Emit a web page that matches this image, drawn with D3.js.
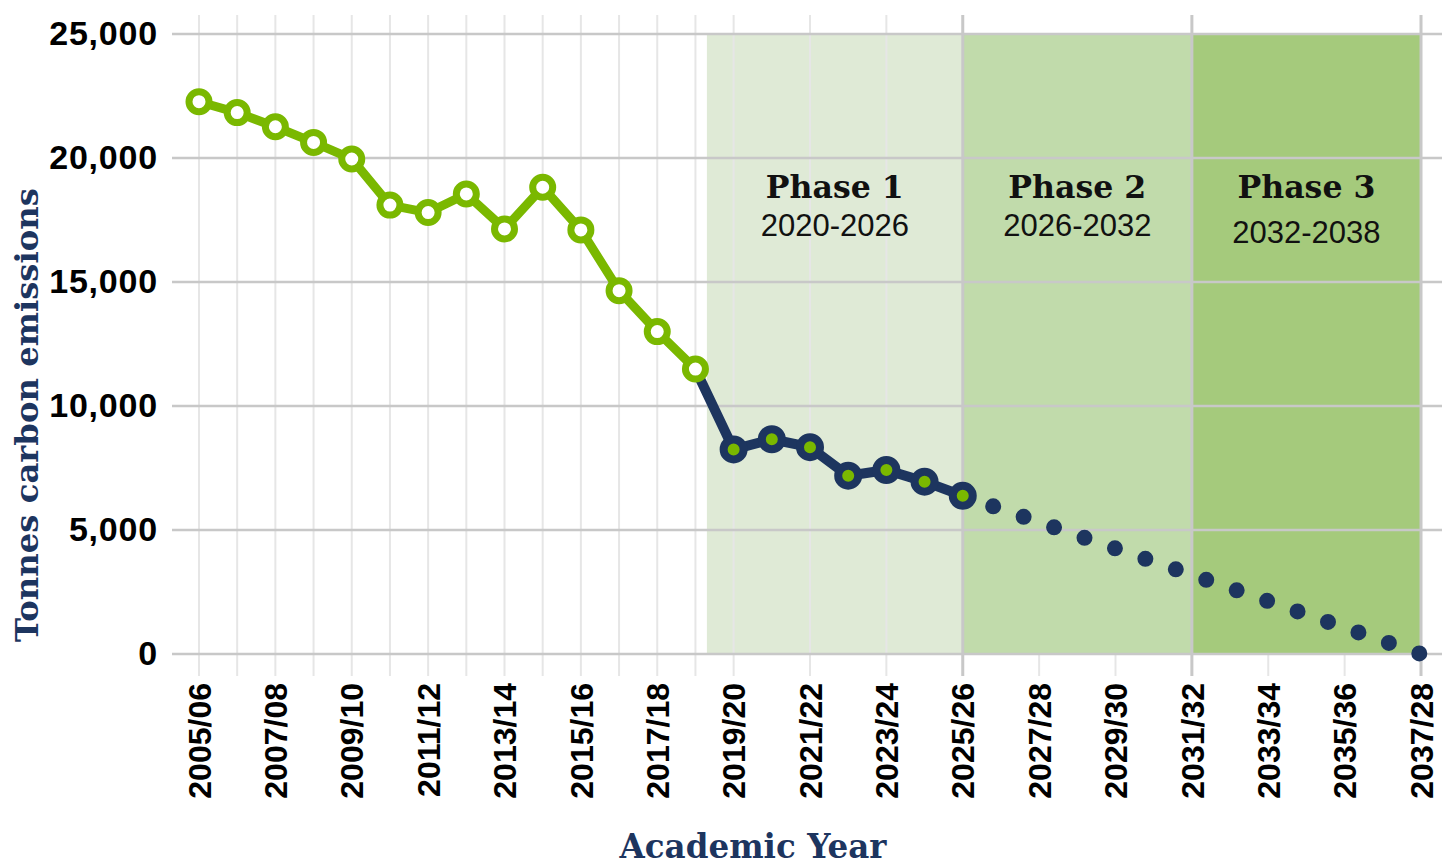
<!DOCTYPE html>
<html>
<head>
<meta charset="utf-8">
<script src="https://cdn.jsdelivr.net/npm/d3@7"></script>
<style>
  body { margin: 0; background: #fff; }
  svg { display: block; }
</style>
</head>
<body>
<div id="chart"></div>
<script>
// Academic years on the x axis (one per gridline)
const years = ["2005/06", "2006/07", "2007/08", "2008/09", "2009/10", "2010/11", "2011/12",
    "2012/13", "2013/14", "2014/15", "2015/16", "2016/17", "2017/18", "2018/19", "2019/20",
    "2020/21", "2021/22", "2022/23", "2023/24", "2024/25", "2025/26", "2026/27", "2027/28",
    "2028/29", "2029/30", "2030/31", "2031/32", "2032/33", "2033/34", "2034/35", "2035/36",
    "2036/37", "2037/38"];

// Labels shown under the axis (every other year, as printed on the original)
const tickYears = ["2005/06", "2007/08", "2009/10", "2011/12", "2013/14", "2015/16", "2017/18",
    "2019/20", "2021/22", "2023/24", "2025/26", "2027/28", "2029/30", "2031/32", "2033/34",
    "2035/36", "2037/38"];
const tickLabels = ["2005/06", "2007/08", "2009/10", "2011/12", "2013/14", "2015/16", "2017/18",
    "2019/20", "2021/22", "2023/24", "2025/26", "2027/28", "2029/30", "2031/32", "2033/34",
    "2035/36", "2037/28"];

const yTicks = [0, 5000, 10000, 15000, 20000, 25000];

// Historic emissions (green)
const historicYears = ["2005/06", "2006/07", "2007/08", "2008/09", "2009/10", "2010/11", "2011/12",
    "2012/13", "2013/14", "2014/15", "2015/16", "2016/17", "2017/18", "2018/19"];
const historicValues = [22270, 21830, 21260, 20630, 19960, 18100, 17800,
    18550, 17140, 18820, 17100, 14650, 13000, 11490];

// Phase 1 actuals (navy)
const recentYears = ["2019/20", "2020/21", "2021/22", "2022/23", "2023/24", "2024/25", "2025/26"];
const recentValues = [8250, 8660, 8340, 7190, 7420, 6950, 6380];

// Projection to net zero (dotted)
const projectionYears = ["2025/26", "2037/38"];
const projectionValues = [6380, 0];

// Phase bands
const phaseNames = ["Phase 1", "Phase 2", "Phase 3"];
const phaseRanges = ["2020-2026", "2026-2032", "2032-2038"];
const phaseStart = [13.3, 20, 26];   // year index where each band starts
const phaseEnd = [20, 26, 32];
const phaseColors = ["#dfead6", "#c1dbab", "#a5ca7c"];

const width = 1442, height = 865;
const green = "#7ab800", navy = "#1d355f";

const svg = d3.select("#chart").append("svg")
    .attr("width", width)
    .attr("height", height);

const idx = y => years.indexOf(y);

const x = d3.scaleLinear()
    .domain([0, years.length - 1])
    .range([199, 1421]);

const y = d3.scaleLinear()
    .domain([0, 25000])
    .range([654, 34]);

// phase bands
svg.append("g").selectAll("rect")
    .data(phaseNames)
    .join("rect")
    .attr("x", (d, i) => x(phaseStart[i]))
    .attr("y", y(25000))
    .attr("width", (d, i) => x(phaseEnd[i]) - x(phaseStart[i]))
    .attr("height", y(0) - y(25000))
    .attr("fill", (d, i) => phaseColors[i]);

// vertical gridlines: every year up to 2019/20, then every labelled year in phase 1
const vFull = years.map((d, i) => i).filter(i => i <= 14 || (i <= 20 && i % 2 === 0));
svg.append("g").selectAll("line")
    .data(vFull)
    .join("line")
    .attr("x1", d => x(d)).attr("x2", d => x(d))
    .attr("y1", 15).attr("y2", 676)
    .attr("stroke", "#e6e6e6")
    .attr("stroke-width", 2);

// tick stubs below the plot for labelled years beyond phase 1
svg.append("g").selectAll("line")
    .data(tickYears.map(idx).filter(i => i > 20))
    .join("line")
    .attr("x1", d => x(d)).attr("x2", d => x(d))
    .attr("y1", 654).attr("y2", 676)
    .attr("stroke", "#e6e6e6")
    .attr("stroke-width", 2);

// horizontal gridlines
svg.append("g").selectAll("line")
    .data(yTicks)
    .join("line")
    .attr("x1", 172).attr("x2", width)
    .attr("y1", d => y(d)).attr("y2", d => y(d))
    .attr("stroke", "#c8c8c8")
    .attr("stroke-width", 2.5);

// phase boundary lines
svg.append("g").selectAll("line")
    .data([20, 26, 32])
    .join("line")
    .attr("x1", d => x(d)).attr("x2", d => x(d))
    .attr("y1", 15).attr("y2", 676)
    .attr("stroke", "#c8c8c8")
    .attr("stroke-width", 3);

// phase labels
const labels = svg.append("g").attr("text-anchor", "middle");
labels.selectAll("text.name")
    .data(phaseNames)
    .join("text")
    .attr("class", "name")
    .attr("x", (d, i) => (x(phaseStart[i]) + x(phaseEnd[i])) / 2)
    .attr("y", 198)
    .attr("font-family", "'DejaVu Serif', serif")
    .attr("font-weight", "bold")
    .attr("font-size", 32)
    .attr("textLength", 138)
    .attr("lengthAdjust", "spacingAndGlyphs")
    .attr("fill", "#111")
    .text(d => d);
labels.selectAll("text.range")
    .data(phaseRanges)
    .join("text")
    .attr("class", "range")
    .attr("x", (d, i) => (x(phaseStart[i]) + x(phaseEnd[i])) / 2)
    .attr("y", (d, i) => i === 2 ? 243 : 236)
    .attr("font-family", "'Liberation Sans', Arial, sans-serif")
    .attr("font-size", 31)
    .attr("fill", "#111")
    .text(d => d);

// y axis labels
const yAxis = svg.append("g")
    .attr("transform", "translate(172,0)")
    .call(d3.axisLeft(y).tickValues(yTicks).tickFormat(d3.format(",")).tickSize(0).tickPadding(14));
yAxis.select(".domain").remove();
yAxis.selectAll("text")
    .attr("font-family", "'Liberation Sans', Arial, sans-serif")
    .attr("font-weight", "bold")
    .attr("font-size", 34)
    .attr("letter-spacing", 0.8)
    .attr("fill", "#000");

// x axis labels
const xAxis = svg.append("g")
    .attr("transform", "translate(0,654)")
    .call(d3.axisBottom(x)
        .tickValues(tickYears.map(idx))
        .tickFormat((d, i) => tickLabels[i])
        .tickSize(0));
xAxis.select(".domain").remove();
xAxis.selectAll("text")
    .attr("font-family", "'Liberation Sans', Arial, sans-serif")
    .attr("font-weight", "bold")
    .attr("font-size", 32)
    .attr("fill", "#000")
    .attr("text-anchor", "end")
    .attr("transform", "rotate(-90)")
    .attr("x", -29)
    .attr("y", 0)
    .attr("dy", "0.35em");

// axis titles
svg.append("text")
    .attr("transform", "translate(38,415) rotate(-90)")
    .attr("text-anchor", "middle")
    .attr("font-family", "'DejaVu Serif', serif")
    .attr("font-weight", "bold")
    .attr("font-size", 32)
    .attr("textLength", 454)
    .attr("lengthAdjust", "spacingAndGlyphs")
    .attr("fill", navy)
    .text("Tonnes carbon emissions");

svg.append("text")
    .attr("x", 753)
    .attr("y", 858)
    .attr("text-anchor", "middle")
    .attr("font-family", "'DejaVu Serif', serif")
    .attr("font-weight", "bold")
    .attr("font-size", 33)
    .attr("textLength", 267)
    .attr("lengthAdjust", "spacingAndGlyphs")
    .attr("fill", navy)
    .text("Academic Year");

const line = d3.line()
    .x(d => x(idx(d.year)))
    .y(d => y(d.value));

const historic = historicYears.map((d, i) => ({ year: d, value: historicValues[i] }));
const recent = recentYears.map((d, i) => ({ year: d, value: recentValues[i] }));
const projection = projectionYears.map((d, i) => ({ year: d, value: projectionValues[i] }));

// dotted projection
svg.append("path")
    .datum(projection)
    .attr("d", line)
    .attr("fill", "none")
    .attr("stroke", navy)
    .attr("stroke-width", 16)
    .attr("stroke-linecap", "round")
    .attr("stroke-dasharray", "0 32.2");

// navy line (joins last historic point to phase 1 points)
svg.append("path")
    .datum([historic[historic.length - 1]].concat(recent))
    .attr("d", line)
    .attr("fill", "none")
    .attr("stroke", navy)
    .attr("stroke-width", 10)
    .attr("stroke-linejoin", "round");

svg.append("g").selectAll("circle")
    .data(recent)
    .join("circle")
    .attr("cx", d => x(idx(d.year)))
    .attr("cy", d => y(d.value))
    .attr("r", 10)
    .attr("fill", green)
    .attr("stroke", navy)
    .attr("stroke-width", 8);

// green historic line
svg.append("path")
    .datum(historic)
    .attr("d", line)
    .attr("fill", "none")
    .attr("stroke", green)
    .attr("stroke-width", 9)
    .attr("stroke-linejoin", "round");

svg.append("g").selectAll("circle")
    .data(historic)
    .join("circle")
    .attr("cx", d => x(idx(d.year)))
    .attr("cy", d => y(d.value))
    .attr("r", 10)
    .attr("fill", "#fff")
    .attr("stroke", green)
    .attr("stroke-width", 7);
</script>
</body>
</html>
